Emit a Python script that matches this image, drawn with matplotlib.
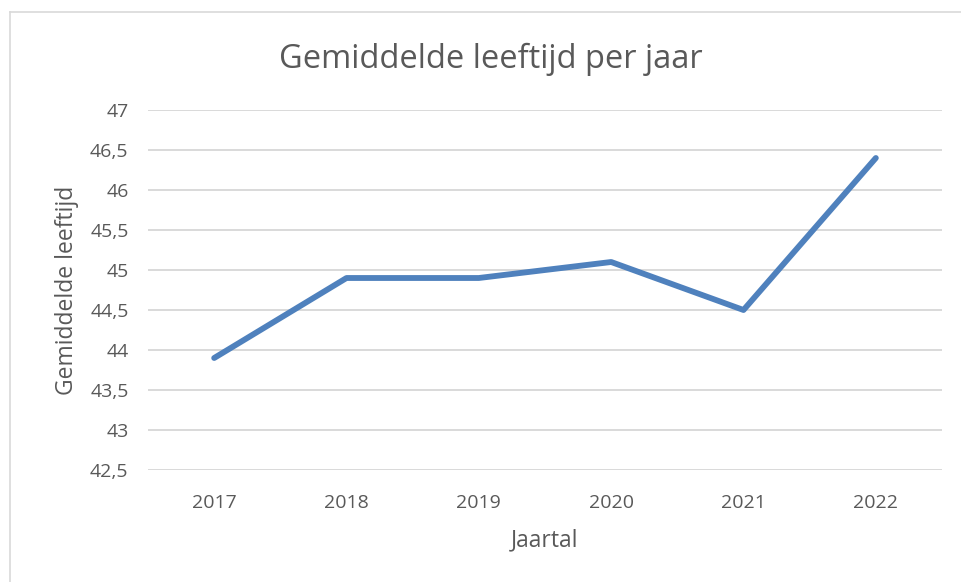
import matplotlib.pyplot as plt
from matplotlib.lines import Line2D
from matplotlib.ticker import FuncFormatter

jaren = ['2017', '2018', '2019', '2020', '2021', '2022']
leeftijd = [43.9, 44.9, 44.9, 45.1, 44.5, 46.4]
y_ticks = [42.5, 43, 43.5, 44, 44.5, 45, 45.5, 46, 46.5, 47]

plt.rcParams['font.family'] = ['Open Sans', 'DejaVu Sans']
tekst = '#595959'

fig = plt.figure(figsize=(9.62, 5.82), dpi=100)
ax = fig.add_axes([148 / 962, 1 - 470 / 582, 794 / 962, 360 / 582])

x = range(len(jaren))
ax.plot(x, leeftijd, color='#4F81BD', lw=4.2, solid_capstyle='round', solid_joinstyle='round', zorder=3)

ax.set_xlim(-0.5, len(jaren) - 0.5)
ax.set_ylim(42.5, 47)
ax.set_yticks(y_ticks)
ax.yaxis.set_major_formatter(FuncFormatter(lambda v, p: f'{v:g}'.replace('.', ',')))
ax.set_xticks(list(x))
ax.set_xticklabels(jaren)
ax.grid(axis='y', color='#D9D9D9', lw=1.4)
ax.set_axisbelow(True)
for s in ax.spines.values():
    s.set_visible(False)
ax.tick_params(length=0, colors=tekst, labelsize=14)
ax.tick_params(axis='y', pad=14)
ax.tick_params(axis='x', pad=17)

ax.set_xlabel('Jaartal', fontsize=16.5, color=tekst, labelpad=12)
ax.set_ylabel('Gemiddelde leeftijd', fontsize=16.5, color=tekst, labelpad=8)
fig.text(491 / 962, 1 - 59 / 582, 'Gemiddelde leeftijd per jaar', fontsize=23.5,
         color=tekst, ha='center', va='center')

# rand van het grafiekgebied (links en boven)
fig.add_artist(Line2D([10 / 962, 10 / 962], [0, 1 - 12 / 582], color='#D9D9D9', lw=1.2,
                      transform=fig.transFigure))
fig.add_artist(Line2D([10 / 962, 1], [1 - 12 / 582, 1 - 12 / 582], color='#D9D9D9', lw=1.2,
                      transform=fig.transFigure))

fig.savefig('out.png', dpi=100)
